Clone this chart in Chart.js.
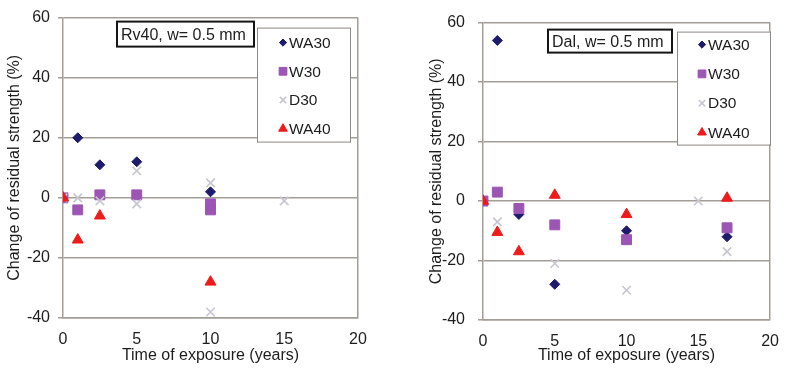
<!DOCTYPE html>
<html>
<head>
<meta charset="utf-8">
<title>Residual strength</title>
<script src="https://cdn.jsdelivr.net/npm/chart.js@4/dist/chart.umd.min.js"></script>
<style>
  body { margin: 0; background: #fff; }
  #wrap { position: relative; width: 791px; height: 371px; }
  .panel { position: absolute; top: 0; height: 371px; }
</style>
</head>
<body>
<div id="wrap">
  <div class="panel" style="left:0;width:400px"><canvas id="chartRv40" width="400" height="371"></canvas></div>
  <div class="panel" style="left:400px;width:391px"><canvas id="chartDal" width="391" height="371"></canvas></div>
</div>
<script>
// Series values: [time of exposure (years), change of residual strength (%)]
const seriesNames = ['WA30', 'W30', 'D30', 'WA40'];

const rv40WA30 = [[1, 20], [2.5, 11], [5, 12], [10, 2]];
const rv40W30 = [[0, 0], [1, -4], [2.5, 1], [5, 1], [10, -2], [10, -4]];
const rv40D30 = [[0, 0], [1, 0], [2.5, -1], [5, 9], [5, -2], [10, 5], [10, -38], [15, -1]];
const rv40WA40 = [[0, 0], [1, -14], [2.5, -6], [10, -28]];

const dalWA30 = [[0, 0], [1, 54], [2.5, -4.5], [5, -28], [10, -10], [17, -12]];
const dalW30 = [[0, 0], [1, 3], [2.5, -2.5], [5, -8], [10, -13], [17, -9]];
const dalD30 = [[1, -7], [5, -21], [10, -30], [15, 0], [17, -17]];
const dalWA40 = [[0, 0], [1, -10.5], [2.5, -17], [5, 2], [10, -4.5], [17, 1]];

const xTicks = [0, 5, 10, 15, 20];
const yTicks = [-40, -20, 0, 20, 40, 60];

const gridColor = '#a39d97';
Chart.defaults.font.family = "'Liberation Sans', Arial, sans-serif";
Chart.defaults.color = '#1d1d1d';

// marker look for each series, reused by the inset legend
const markerStyles = {
  WA30: { pointStyle: 'rectRot', radius: 5, legendRadius: 3.6, fill: '#1f1b6c', stroke: '#1f1b6c', width: 1 },
  W30:  { pointStyle: 'rect', radius: 7, legendRadius: 5.5, fill: '#9b55b3', stroke: '#9b55b3', width: 1 },
  D30:  { pointStyle: 'crossRot', radius: 6, legendRadius: 4.5, fill: '#c6c6d0', stroke: '#c6c6d0', width: 1.6 },
  WA40: { pointStyle: 'triangle', radius: 6.3, legendRadius: 5, fill: '#ee1b1b', stroke: '#ee1b1b', width: 1 }
};
// later Excel series sit on top
const drawOrder = { WA30: 3, W30: 2, D30: 1, WA40: 0 };

function toPoints(pairs) {
  return pairs.map(function (p) { return { x: p[0], y: p[1] }; });
}

function makeDataset(name, pairs) {
  const s = markerStyles[name];
  return {
    label: name,
    data: toPoints(pairs),
    pointStyle: s.pointStyle,
    pointRadius: s.radius,
    pointHoverRadius: s.radius,
    backgroundColor: s.fill,
    borderColor: s.stroke,
    borderWidth: s.width,
    order: drawOrder[name]
  };
}

// legend box and caption drawn inside the plot area
const insetPlugin = {
  id: 'inset',
  afterDatasetsDraw(chart, args, opts) {
    const ctx = chart.ctx;
    const area = chart.chartArea;
    ctx.save();

    // caption box
    const n = opts.note;
    const nx = area.left + n.left, ny = area.top + n.top;
    ctx.fillStyle = '#fff';
    ctx.fillRect(nx, ny, n.width, n.height);
    ctx.lineWidth = 2;
    ctx.strokeStyle = '#151515';
    ctx.strokeRect(nx, ny, n.width, n.height);
    ctx.fillStyle = '#1d1d1d';
    ctx.font = "16px 'Liberation Sans', Arial, sans-serif";
    ctx.textBaseline = 'middle';
    ctx.textAlign = 'left';
    ctx.fillText(n.text, nx + 4, ny + n.height / 2 + 1);

    // legend box
    const l = opts.legend;
    const lx = area.left + l.left, ly = area.top + l.top;
    ctx.fillStyle = '#fff';
    ctx.fillRect(lx, ly, l.width, l.height);
    ctx.lineWidth = 1;
    ctx.strokeStyle = '#8c8884';
    ctx.strokeRect(lx + 0.5, ly + 0.5, l.width, l.height);

    ctx.font = "15.5px 'Liberation Sans', Arial, sans-serif";
    chart.data.datasets.forEach(function (ds, i) {
      const s = markerStyles[ds.label];
      const rowY = ly + l.firstRow + i * l.rowGap;
      ctx.fillStyle = s.fill;
      ctx.strokeStyle = s.stroke;
      ctx.lineWidth = s.width;
      Chart.helpers.drawPoint(ctx, { pointStyle: s.pointStyle, radius: s.legendRadius, borderWidth: s.width, rotation: 0 }, lx + l.markerX, rowY);
      ctx.fillStyle = '#1d1d1d';
      ctx.fillText(ds.label, lx + l.textX, rowY + 1);
    });
    ctx.restore();
  }
};

function makeChart(canvasId, sets, layout) {
  return new Chart(document.getElementById(canvasId), {
    type: 'scatter',
    data: {
      datasets: seriesNames.map(function (name, i) { return makeDataset(name, sets[i]); })
    },
    options: {
      responsive: false,
      animation: false,
      layout: { padding: layout.padding },
      plugins: {
        legend: { display: false },
        tooltip: { enabled: false },
        inset: { note: layout.note, legend: layout.legend }
      },
      scales: {
        x: {
          type: 'linear',
          min: xTicks[0],
          max: xTicks[xTicks.length - 1],
          afterBuildTicks(scale) { scale.ticks = xTicks.map(function (v) { return { value: v }; }); },
          ticks: { padding: 12, font: { size: 16 } },
          grid: {
            drawTicks: false,
            lineWidth: 1.5,
            color: function (c) { return c.tick && c.tick.value === 20 ? gridColor : 'rgba(0,0,0,0)'; }
          },
          border: { color: gridColor, width: 1.5 },
          title: { display: true, text: 'Time of exposure (years)', font: { size: 16 }, padding: { top: 0, bottom: 6 } },
          afterFit(scale) { scale.height = layout.xHeight; }
        },
        y: {
          type: 'linear',
          min: yTicks[0],
          max: yTicks[yTicks.length - 1],
          afterBuildTicks(scale) { scale.ticks = yTicks.map(function (v) { return { value: v }; }); },
          ticks: { padding: layout.yTickPad, font: { size: 16 } },
          grid: { color: gridColor, lineWidth: 1.5, tickLength: 5 },
          border: { color: gridColor, width: 1.5 },
          title: { display: true, text: 'Change of residual strength (%)', font: { size: 16 }, padding: { top: layout.yTitlePad, bottom: 0 } },
          afterFit(scale) { scale.width = layout.yWidth; }
        }
      }
    },
    plugins: [insetPlugin]
  });
}

// Rv40 panel
makeChart('chartRv40', [rv40WA30, rv40W30, rv40D30, rv40WA40], {
  padding: { top: 12, right: 42, bottom: 0, left: 0 },
  xHeight: 53,
  yWidth: 63,
  yTickPad: 8,
  yTitlePad: 5,
  note: { text: 'Rv40, w= 0.5 mm', left: 54, top: 4, width: 137, height: 25 },
  legend: { left: 194, top: 10, width: 93, height: 114, firstRow: 15, rowGap: 28.7, markerX: 26, textX: 32 }
});

// Dal panel
makeChart('chartDal', [dalWA30, dalW30, dalD30, dalWA40], {
  padding: { top: 15, right: 13, bottom: 0, left: 0 },
  xHeight: 51,
  yWidth: 83,
  yTickPad: 13,
  yTitlePad: 27,
  note: { text: 'Dal, w= 0.5 mm', left: 65, top: 7, width: 124, height: 23 },
  legend: { left: 194, top: 9, width: 93, height: 113, firstRow: 13, rowGap: 29.3, markerX: 25, textX: 31 }
});
</script>
</body>
</html>
